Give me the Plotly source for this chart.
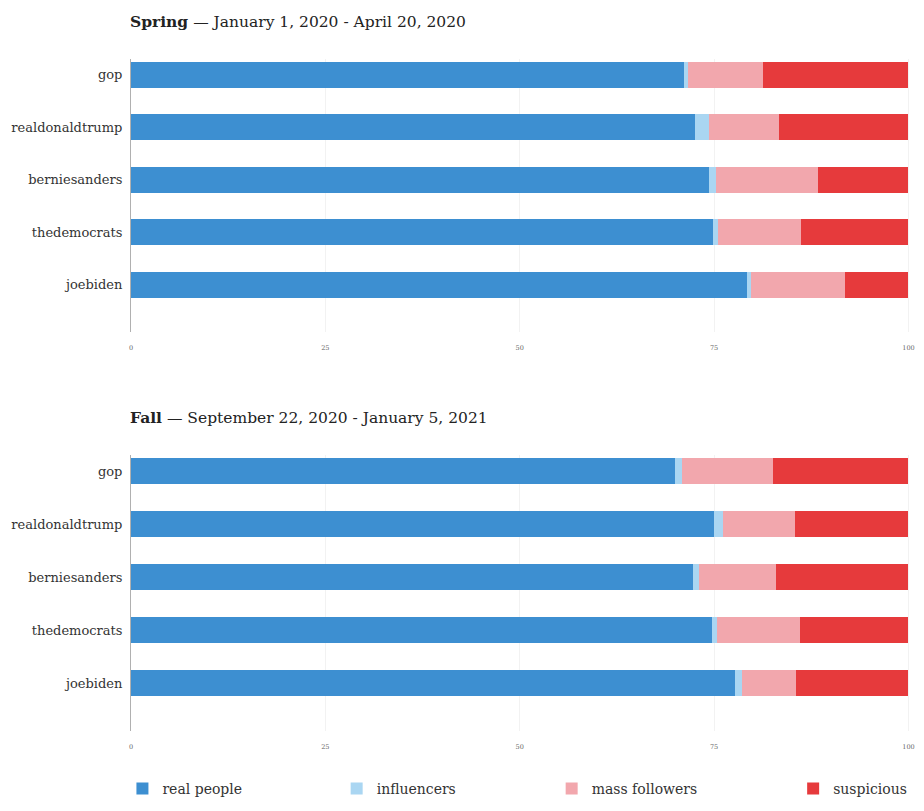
import plotly.graph_objs as go

accounts = ["gop", "realdonaldtrump", "berniesanders", "thedemocrats", "joebiden"]
groups = ["real people", "influencers", "mass followers", "suspicious"]
colors = ["#3d8fd1", "#aad6f2", "#f2a7ad", "#e63a3c"]

# percentages per account, spring period
spring_real = [71.1, 72.6, 74.4, 74.8, 79.2]
spring_infl = [0.5, 1.7, 0.8, 0.7, 0.6]
spring_mass = [9.7, 9.1, 13.2, 10.7, 12.1]
spring_susp = [18.7, 16.6, 11.6, 13.8, 8.1]

# fall period
fall_real = [70.0, 75.0, 72.3, 74.7, 77.7]
fall_infl = [0.9, 1.1, 0.8, 0.7, 0.9]
fall_mass = [11.7, 9.3, 9.9, 10.7, 7.0]
fall_susp = [17.4, 14.6, 17.0, 13.9, 14.4]

x_ticks = [0, 25, 50, 75, 100]

FONT = "DejaVu Serif"
# page body adds an 8px margin all round, keep the page inside the window
W, H = 908, 795

fig = go.Figure()

spring = [spring_real, spring_infl, spring_mass, spring_susp]
fall = [fall_real, fall_infl, fall_mass, fall_susp]
legends = ["legend", "legend2", "legend3", "legend4"]

for i, name in enumerate(groups):
    fig.add_trace(go.Bar(
        y=accounts, x=spring[i], name=name, orientation="h",
        marker=dict(color=colors[i], line=dict(width=0)),
        xaxis="x", yaxis="y", legend=legends[i], showlegend=True,
    ))
    fig.add_trace(go.Bar(
        y=accounts, x=fall[i], name=name, orientation="h",
        marker=dict(color=colors[i], line=dict(width=0)),
        xaxis="x2", yaxis="y2", showlegend=False,
    ))

xaxis_style = dict(
    range=[0, 100.2], tickvals=x_ticks, showgrid=True, gridcolor="#f2f2f2",
    zeroline=False, ticks="outside", ticklen=9, tickcolor="rgba(0,0,0,0)",
    tickfont=dict(size=6.5, color="#666", family=FONT), fixedrange=True,
    ticklabeloverflow="allow",
)
yaxis_style = dict(
    range=[4.9, -0.3], showline=True, linecolor="#b0b0b0", linewidth=1,
    ticks="outside", ticklen=5, tickcolor="rgba(0,0,0,0)",
    tickfont=dict(size=13, color="#333", family=FONT), showgrid=False,
)

legend_x = [-0.011, 0.264, 0.540, 0.850]
legend_layout = {}
for i, key in enumerate(legends):
    legend_layout[key] = dict(
        x=legend_x[i], xanchor="left", y=1 - 781 / H, yanchor="middle",
        font=dict(size=14, color="#333", family=FONT),
        bgcolor="rgba(0,0,0,0)",
    )

fig.update_layout(
    barmode="stack",
    bargap=0.5,
    width=W,
    height=H,
    margin=dict(l=123, r=6, t=0, b=0, autoexpand=False),
    plot_bgcolor="white",
    paper_bgcolor="white",
    font=dict(family=FONT, color="#333"),
    xaxis=dict(domain=[0, 1], anchor="y", **xaxis_style),
    yaxis=dict(domain=[0.5925, 0.9358], anchor="x", **yaxis_style),
    xaxis2=dict(domain=[0, 1], anchor="y2", **xaxis_style),
    yaxis2=dict(domain=[0.0906, 0.4377], anchor="x2", **yaxis_style),
    annotations=[
        dict(text="<b>Spring</b> — January 1, 2020 - April 20, 2020",
             x=-0.004, y=1 - 14 / H, xref="paper", yref="paper",
             xanchor="left", yanchor="middle", showarrow=False,
             font=dict(size=15.5, color="#222", family=FONT)),
        dict(text="<b>Fall</b> — September 22, 2020 - January 5, 2021",
             x=-0.004, y=1 - 409 / H, xref="paper", yref="paper",
             xanchor="left", yanchor="middle", showarrow=False,
             font=dict(size=15.5, color="#222", family=FONT)),
    ],
    **legend_layout,
)

fig.write_html("out.html")
